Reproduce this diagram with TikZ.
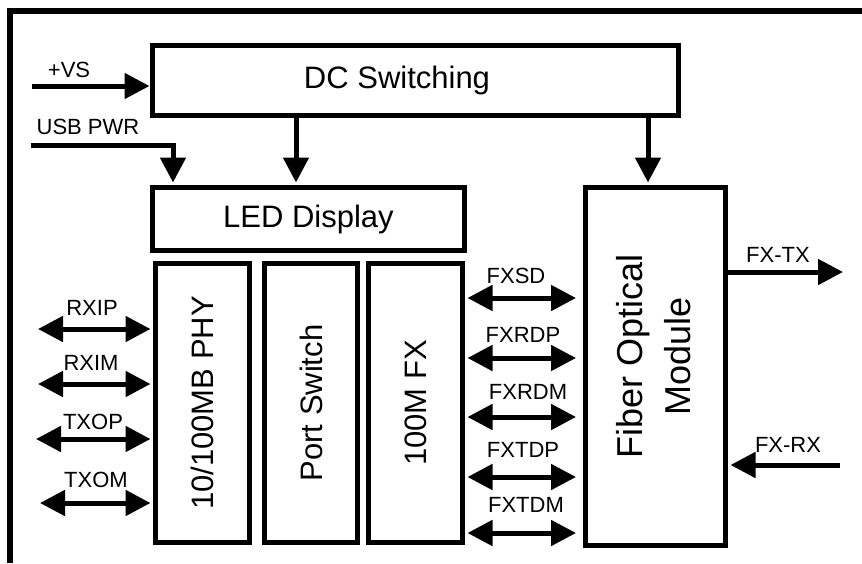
\documentclass[tikz,border=0pt]{standalone}
\usepackage{fontspec}
\setmainfont{Liberation Sans}
\usetikzlibrary{arrows.meta}
\tikzset{
  block/.style={draw=black, line width=5pt, inner sep=0pt},
  bigtxt/.style={font=\fontsize{31}{36}\selectfont, inner sep=0pt},
  fibtxt/.style={font=\fontsize{36}{48}\selectfont, inner sep=0pt},
  sig/.style={font=\fontsize{22}{26}\selectfont, inner sep=0pt},
  arr/.style={line width=5pt, -{Triangle[length=25pt,width=25pt]}},
  darr/.style={line width=5pt, {Triangle[length=25pt,width=25pt]}-{Triangle[length=25pt,width=25pt]}},
}
\begin{document}
\begin{tikzpicture}[x=1pt,y=-1pt]
\useasboundingbox (0,0) rectangle (862,563);
% frame
\draw[line width=6pt] (10,563) -- (10,11) -- (862,11);
% blocks
\node[block, minimum width=526pt, minimum height=70pt] (dc) at (415,80.5) {};
\node[bigtxt] (dctxt) at (397,80) {DC Switching};
\node[block, bigtxt, minimum width=312pt, minimum height=63pt] (led) at (308.5,219) {LED Display};
\node[block, minimum width=94pt, minimum height=279pt,
  label={[bigtxt, rotate=90]center:10/100MB PHY}] (phy) at (202.5,403) {};
\node[block, minimum width=93pt, minimum height=279pt,
  label={[bigtxt, rotate=90]center:Port Switch}] (psw) at (311,403) {};
\node[block, minimum width=94pt, minimum height=279pt,
  label={[bigtxt, rotate=90]center:100M FX}] (fx) at (415.5,403) {};
\node[block, minimum width=140pt, minimum height=358pt] (fom) at (655.5,366.5) {};
\node[fibtxt, rotate=90, align=center] (fomtxt) at (654,356) {Fiber Optical\\Module};
% power
\coordinate (vs) at (32,86);
\coordinate (usb) at (31,145);
\coordinate (usbx) at (173,0);
\coordinate (ledx) at (296,0);
\coordinate (fomx) at (648,0);
\draw[arr] (vs) -- (vs -| dc.west);
\node[sig] (vstxt) at (69,70) {+VS};
\draw[arr, shorten >=2.5pt] (usb) -| (led.north -| usbx);
\node[sig] (usbtxt) at (88,127) {USB PWR};
\draw[arr, shorten >=2.5pt, shorten <=-2.5pt] (dc.south -| ledx) -- (led.north -| ledx);
\draw[arr, shorten >=2.5pt, shorten <=-2.5pt] (dc.south -| fomx) -- (fom.north -| fomx);
% phy side
\coordinate (rxip) at (38,329);
\coordinate (rxim) at (38,384);
\coordinate (txop) at (36,439);
\coordinate (txom) at (40,503);
\draw[darr, shorten >=2.5pt] (rxip) -- (rxip -| phy.west);
\draw[darr, shorten >=2.5pt] (rxim) -- (rxim -| phy.west);
\draw[darr, shorten >=2.5pt] (txop) -- (txop -| phy.west);
\draw[darr, shorten >=2.5pt] (txom) -- (txom -| phy.west);
\node[sig] (rxiptxt) at (92,308) {RXIP};
\node[sig] (rximtxt) at (91,363) {RXIM};
\node[sig] (txoptxt) at (93,422) {TXOP};
\node[sig] (txomtxt) at (96,480) {TXOM};
% fx side
\coordinate (fxsd) at (520,298);
\coordinate (fxrdp) at (520,358);
\coordinate (fxrdm) at (520,417);
\coordinate (fxtdp) at (520,477);
\coordinate (fxtdm) at (520,533);
\draw[darr, shorten <=2.5pt, shorten >=7pt] (fxsd -| fx.east) -- (fxsd -| fom.west);
\draw[darr, shorten <=2.5pt, shorten >=7pt] (fxrdp -| fx.east) -- (fxrdp -| fom.west);
\draw[darr, shorten <=2.5pt, shorten >=7pt] (fxrdm -| fx.east) -- (fxrdm -| fom.west);
\draw[darr, shorten <=2.5pt, shorten >=7pt] (fxtdp -| fx.east) -- (fxtdp -| fom.west);
\draw[darr, shorten <=2.5pt, shorten >=7pt] (fxtdm -| fx.east) -- (fxtdm -| fom.west);
\node[sig] (fxsdtxt) at (516,276) {FXSD};
\node[sig] (fxrdptxt) at (523,335) {FXRDP};
\node[sig] (fxrdmtxt) at (528,392) {FXRDM};
\node[sig] (fxtdptxt) at (523,450) {FXTDP};
\node[sig] (fxtdmtxt) at (526,505) {FXTDM};
% fiber
\coordinate (fxtx) at (843,272);
\coordinate (fxrx) at (840,465);
\draw[arr] (fxtx -| fom.east) -- (fxtx);
\draw[arr, shorten >=2.5pt] (fxrx) -- (fxrx -| fom.east);
\node[sig] (fxtxtxt) at (778,255) {FX-TX};
\node[sig] (fxrxtxt) at (788,445) {FX-RX};
\end{tikzpicture}
\end{document}
